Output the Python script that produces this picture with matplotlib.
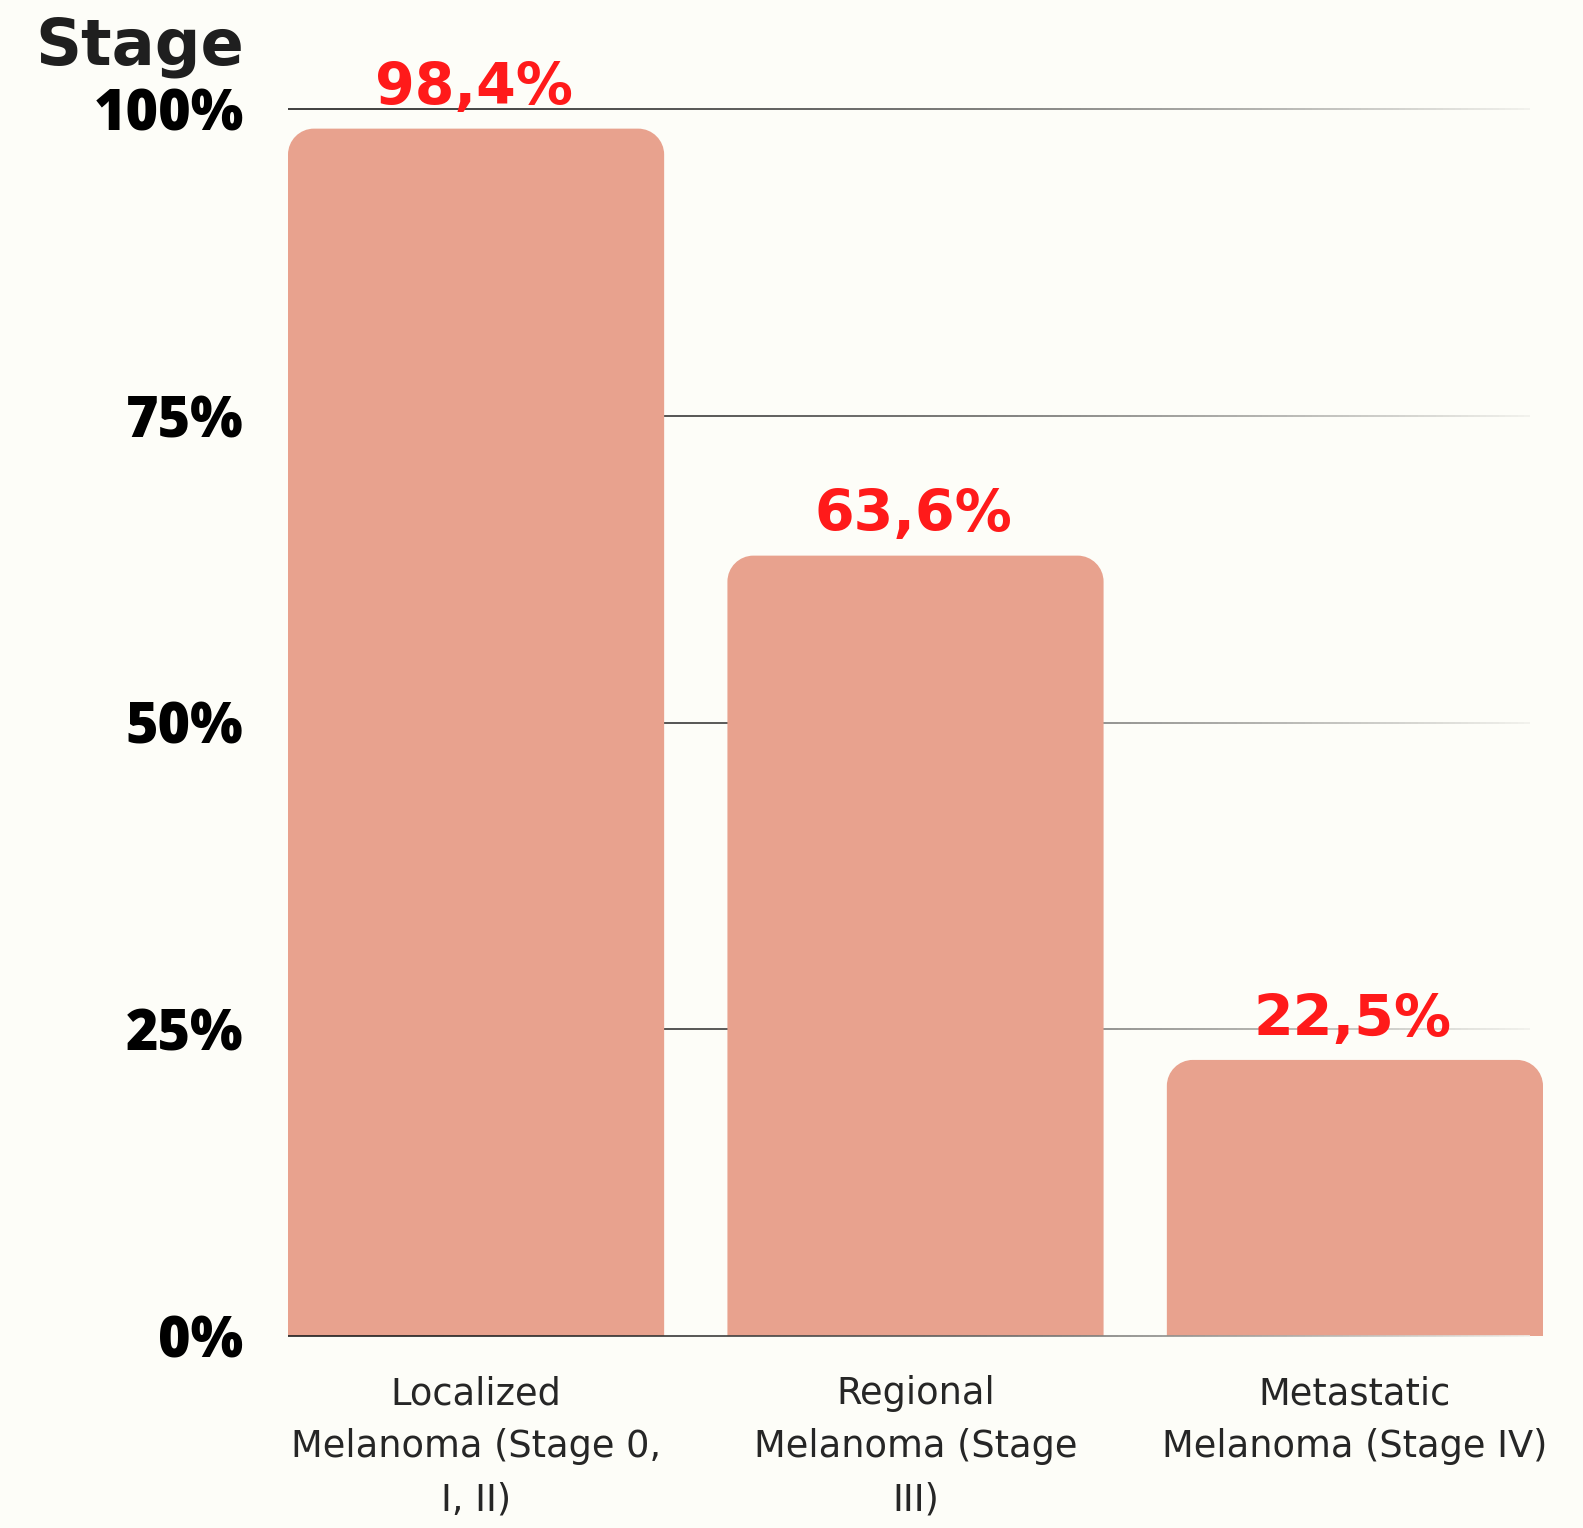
import matplotlib
matplotlib.use("Agg")
import matplotlib.pyplot as plt
import numpy as np
from matplotlib.path import Path
from matplotlib.patches import PathPatch
from matplotlib.collections import LineCollection

# data
categories = ["Localized\nMelanoma (Stage 0,\nI, II)",
              "Regional\nMelanoma (Stage\nIII)",
              "Metastatic\nMelanoma (Stage IV)"]
values = [98.4, 63.6, 22.5]
value_labels = ["98,4%", "63,6%", "22,5%"]
yticks = [0, 25, 50, 75, 100]
ytick_labels = ["0%", "25%", "50%", "75%", "100%"]

BG = "#fdfdf8"
BAR = "#e8a28e"
RED = "#ff1a1a"

W, H = 1583, 1528
fig = plt.figure(figsize=(W / 100, H / 100), dpi=100, facecolor=BG)
ax = fig.add_axes([288 / W, (H - 1336) / H, (1543 - 288) / W, 1227 / H])
ax.set_facecolor(BG)

bar_w = 0.856
x = np.arange(len(values))
ax.set_xlim(-0.428, len(values) - 1 + 0.428)
ax.set_ylim(0, 100)

# fading gridlines (dark on the left, light on the right)
x0_lim, x1_lim = ax.get_xlim()
x_end = x0_lim + (1530 - 288) / (1543 - 288) * (x1_lim - x0_lim)
xs = np.linspace(x0_lim, x_end, 200)
dark = np.array([0.12, 0.12, 0.12])
light = np.array([0.94, 0.94, 0.92])
for t in yticks:
    segs = [[(xs[i], t), (xs[i + 1], t)] for i in range(len(xs) - 1)]
    f = np.linspace(0, 1, len(segs)) ** 1.8
    cols = [tuple(dark * (1 - k) + light * k) for k in f]
    ax.add_collection(LineCollection(segs, colors=cols, linewidths=1.2,
                                     zorder=4 if t == 0 else 1, clip_on=False))

# radius in data units from pixels
px_x = (x1_lim - x0_lim) / (1543 - 288)
px_y = 100 / 1227
r = 26


def rounded_bar(xc, h):
    x0, x1 = xc - bar_w / 2, xc + bar_w / 2
    rx, ry = r * px_x, r * px_y
    k = 0.5523
    verts = [(x0, 0), (x0, h - ry),
             (x0, h - ry + k * ry), (x0 + rx - k * rx, h), (x0 + rx, h),
             (x1 - rx, h),
             (x1 - rx + k * rx, h), (x1, h - ry + k * ry), (x1, h - ry),
             (x1, 0), (x0, 0)]
    codes = [Path.MOVETO, Path.LINETO,
             Path.CURVE4, Path.CURVE4, Path.CURVE4,
             Path.LINETO,
             Path.CURVE4, Path.CURVE4, Path.CURVE4,
             Path.LINETO, Path.CLOSEPOLY]
    return PathPatch(Path(verts, codes), facecolor=BAR, edgecolor="none", zorder=2)


for xi, v, lab in zip(x, values, value_labels):
    ax.add_patch(rounded_bar(xi, v))
    ax.text(xi - 0.005, v + 1.0, lab, ha="center", va="bottom", color=RED,
            fontsize=41, fontweight="bold", family="DejaVu Sans", zorder=3)

ax.set_yticks(yticks)
ax.set_yticklabels(ytick_labels, fontsize=40, fontweight="heavy",
                   family="Open Sans", color="black")
ax.tick_params(axis="y", length=0, pad=32)
ax.set_xticks([])
for s in ax.spines.values():
    s.set_visible(False)

for xi, c in zip(x, categories):
    ax.text(xi, -3.2, c, ha="center", va="top", fontsize=26.5,
            color="#262626", family="DejaVu Sans", linespacing=1.55)

fig.text(140 / W, 1 - 47 / H, "Stage", ha="center", va="center",
         fontsize=46, fontweight="bold", color="#1f1f1f", family="DejaVu Sans")

fig.savefig("out.png", dpi=100, facecolor=BG)
